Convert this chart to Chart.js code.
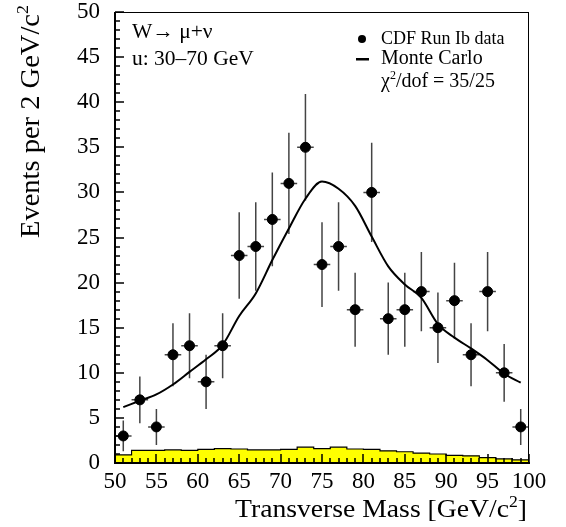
<!DOCTYPE html>
<html>
<head>
<meta charset="utf-8">
<script src="https://cdn.jsdelivr.net/npm/chart.js@4.4.0/dist/chart.umd.min.js"></script>
<style>
html, body { margin: 0; padding: 0; background: #fff; }
#wrap { width: 566px; height: 527px; }
</style>
</head>
<body>
<div id="wrap"><canvas id="massChart" width="566" height="527"></canvas></div>
<script>
// bin centres, 2 GeV/c^2 wide
const binCenters = [51, 53, 55, 57, 59, 61, 63, 65, 67, 69, 71, 73, 75, 77, 79, 81, 83, 85, 87, 89, 91, 93, 95, 97, 99];
// CDF Run Ib data
const dataCounts = [3, 7, 4, 12, 13, 9, 13, 23, 24, 27, 31, 35, 22, 24, 17, 30, 16, 17, 19, 15, 18, 12, 19, 10, 4];
const dataErrors = [1.7, 2.6, 2.0, 3.5, 3.6, 3.0, 3.6, 4.8, 4.9, 5.2, 5.6, 5.9, 4.7, 4.9, 4.1, 5.5, 4.0, 4.1, 4.4, 3.9, 4.2, 3.5, 4.4, 3.2, 2.0];
// Monte Carlo curve
const mcValues = [6.2, 6.9, 7.6, 8.7, 10.1, 11.5, 13.1, 16.3, 18.8, 22.5, 26.0, 29.3, 31.2, 30.4, 28.5, 25.1, 21.8, 19.8, 18.3, 15.4, 13.9, 12.7, 11.4, 9.9, 8.9];
// background histogram (yellow)
const bkgValues = [0.9, 1.4, 1.4, 1.45, 1.4, 1.5, 1.6, 1.55, 1.45, 1.45, 1.5, 1.75, 1.6, 1.75, 1.55, 1.5, 1.35, 1.25, 1.1, 1.0, 0.85, 0.8, 0.6, 0.45, 0.35];
// posisi tick (minor tiap 1, mayor tiap 5)
const xTickValues = Array.from({ length: 51 }, (_, i) => 50 + i);
const yTickValues = Array.from({ length: 51 }, (_, i) => i);
const binWidth = 2;

const serif = '"Liberation Serif", "Times New Roman", serif';

// titik data
const dataPoints = binCenters.map((x, i) => ({ x: x, y: dataCounts[i] }));
const mcPoints = binCenters.map((x, i) => ({ x: x, y: mcValues[i] }));
// histogram pakai tepi kiri bin + tepi kanan terakhir
const bkgPoints = binCenters.map((x, i) => ({ x: x - binWidth / 2, y: bkgValues[i] }));
bkgPoints.push({ x: binCenters[binCenters.length - 1] + binWidth / 2, y: bkgValues[bkgValues.length - 1] });

// teks dengan superscript: [{t, sup}]
function richWidth(ctx, pieces, size) {
    let w = 0;
    pieces.forEach(p => {
        ctx.font = (p.sup ? Math.round(size * 0.62) : size) + 'px ' + serif;
        w += ctx.measureText(p.t).width;
    });
    return w;
}
function drawRich(ctx, pieces, x, y, size) {
    pieces.forEach(p => {
        ctx.font = (p.sup ? Math.round(size * 0.62) : size) + 'px ' + serif;
        ctx.fillText(p.t, x, p.sup ? y - size * 0.42 : y);
        x += ctx.measureText(p.t).width;
    });
}

const xTitle = [{ t: 'Transverse Mass [GeV/c' }, { t: '2', sup: true }, { t: ']' }];
const yTitle = [{ t: 'Events per 2 GeV/c' }, { t: '2', sup: true }];

const physPlugin = {
    id: 'physPlugin',
    beforeDatasetsDraw(chart) {
        const ctx = chart.ctx;
        const xs = chart.scales.x, ys = chart.scales.y;
        ctx.save();
        ctx.strokeStyle = '#444';
        ctx.lineWidth = 1.5;
        binCenters.forEach((x, i) => {
            const px = xs.getPixelForValue(x);
            const py = ys.getPixelForValue(dataCounts[i]);
            ctx.beginPath();
            ctx.moveTo(px, ys.getPixelForValue(dataCounts[i] - dataErrors[i]));
            ctx.lineTo(px, ys.getPixelForValue(dataCounts[i] + dataErrors[i]));
            ctx.moveTo(xs.getPixelForValue(x - binWidth / 2), py);
            ctx.lineTo(xs.getPixelForValue(x + binWidth / 2), py);
            ctx.stroke();
        });
        ctx.restore();
    },
    afterDraw(chart) {
        const ctx = chart.ctx;
        const area = chart.chartArea;
        const xs = chart.scales.x, ys = chart.scales.y;
        const L = Math.round(area.left), R = Math.round(area.right);
        const T = Math.round(area.top), B = Math.round(area.bottom);
        ctx.save();
        ctx.fillStyle = '#000';

        // tick ke dalam
        xTickValues.forEach(v => {
            const px = Math.round(xs.getPixelForValue(v));
            const len = v % 5 === 0 ? 9 : 5;
            ctx.fillRect(px - 0.75, B - len, 1.5, len);
        });
        yTickValues.forEach(v => {
            const py = Math.round(ys.getPixelForValue(v));
            const len = v % 5 === 0 ? 9 : 5;
            ctx.fillRect(L, py - 0.75, len, 1.5);
        });

        // bingkai: kiri & bawah tebal
        ctx.fillRect(L - 1, T, 2, B - T + 1);
        ctx.fillRect(L - 1, B - 1, R - L + 2, 2);
        ctx.fillRect(L, T, R - L, 1);
        ctx.fillRect(R - 1, T, 1, B - T);

        // judul sumbu (digambar manual, font agak lebar)
        ctx.textBaseline = 'alphabetic';
        ctx.textAlign = 'left';
        let size = 25;
        let natW = richWidth(ctx, xTitle, size);
        ctx.save();
        ctx.translate(527, 517);
        ctx.scale(292 / natW, 1);
        drawRich(ctx, xTitle, -natW, 0, size);
        ctx.restore();

        size = 27;
        natW = richWidth(ctx, yTitle, size);
        ctx.save();
        ctx.translate(39, 5);
        ctx.rotate(-Math.PI / 2);
        ctx.scale(233 / natW, 1);
        drawRich(ctx, yTitle, -natW, 0, size);
        ctx.restore();

        // teks di dalam plot
        ctx.font = '21.5px ' + serif;
        ctx.fillText('W\u2192 \u03bc+\u03bd', 132, 38);
        ctx.fillText('u: 30\u201370 GeV', 132, 65);

        // legenda
        ctx.beginPath();
        ctx.arc(362, 39, 4, 0, Math.PI * 2);
        ctx.fill();
        ctx.font = '18px ' + serif;
        ctx.fillText('CDF Run Ib data', 381, 44);
        ctx.fillRect(356, 58, 13, 2.5);
        ctx.font = '20px ' + serif;
        ctx.fillText('Monte Carlo', 381, 64);
        drawRich(ctx, [{ t: '\u03c7' }, { t: '2', sup: true }, { t: '/dof = 35/25' }], 381, 87, 20);
        ctx.restore();
    }
};

function fixY(scale) {
    scale.width = 115;
    scale.paddingTop = 0; scale.paddingBottom = 0;
}
function fixX(scale) {
    scale.height = 64;
    scale.paddingLeft = 0; scale.paddingRight = 0;
}

const cth = document.getElementById('massChart').getContext('2d');
const massChart = new Chart(cth, {
    type: 'scatter',
    data: {
        datasets: [
            {
                label: 'CDF Run Ib data',
                data: dataPoints,
                backgroundColor: '#000',
                borderColor: '#000',
                pointRadius: 5,
                pointHoverRadius: 5,
                showLine: false,
                order: 1
            },
            {
                label: 'Monte Carlo',
                data: mcPoints,
                showLine: true,
                borderColor: '#000',
                borderWidth: 2,
                pointRadius: 0,
                tension: 0.4,
                cubicInterpolationMode: 'monotone',
                fill: false,
                order: 2
            },
            {
                label: 'Background',
                data: bkgPoints,
                showLine: true,
                stepped: true,
                borderColor: '#000',
                borderWidth: 1.2,
                backgroundColor: '#ffff00',
                pointRadius: 0,
                fill: 'origin',
                order: 3
            }
        ]
    },
    options: {
        responsive: false,
        animation: false,
        layout: { padding: { left: 0, top: 12, right: 37, bottom: 0 } },
        plugins: {
            legend: { display: false },
            tooltip: { enabled: false }
        },
        scales: {
            x: {
                type: 'linear',
                min: 50,
                max: 100,
                afterFit: fixX,
                grid: { display: false },
                border: { display: false },
                ticks: {
                    stepSize: 5,
                    color: '#000',
                    padding: -3,
                    maxRotation: 0,
                    font: { family: serif, size: 23 }
                }
            },
            y: {
                min: 0,
                max: 50,
                afterFit: fixY,
                grid: { display: false },
                border: { display: false },
                ticks: {
                    stepSize: 5,
                    color: '#000',
                    padding: 7,
                    font: { family: serif, size: 23 }
                }
            }
        }
    },
    plugins: [physPlugin]
});
</script>
</body>
</html>
